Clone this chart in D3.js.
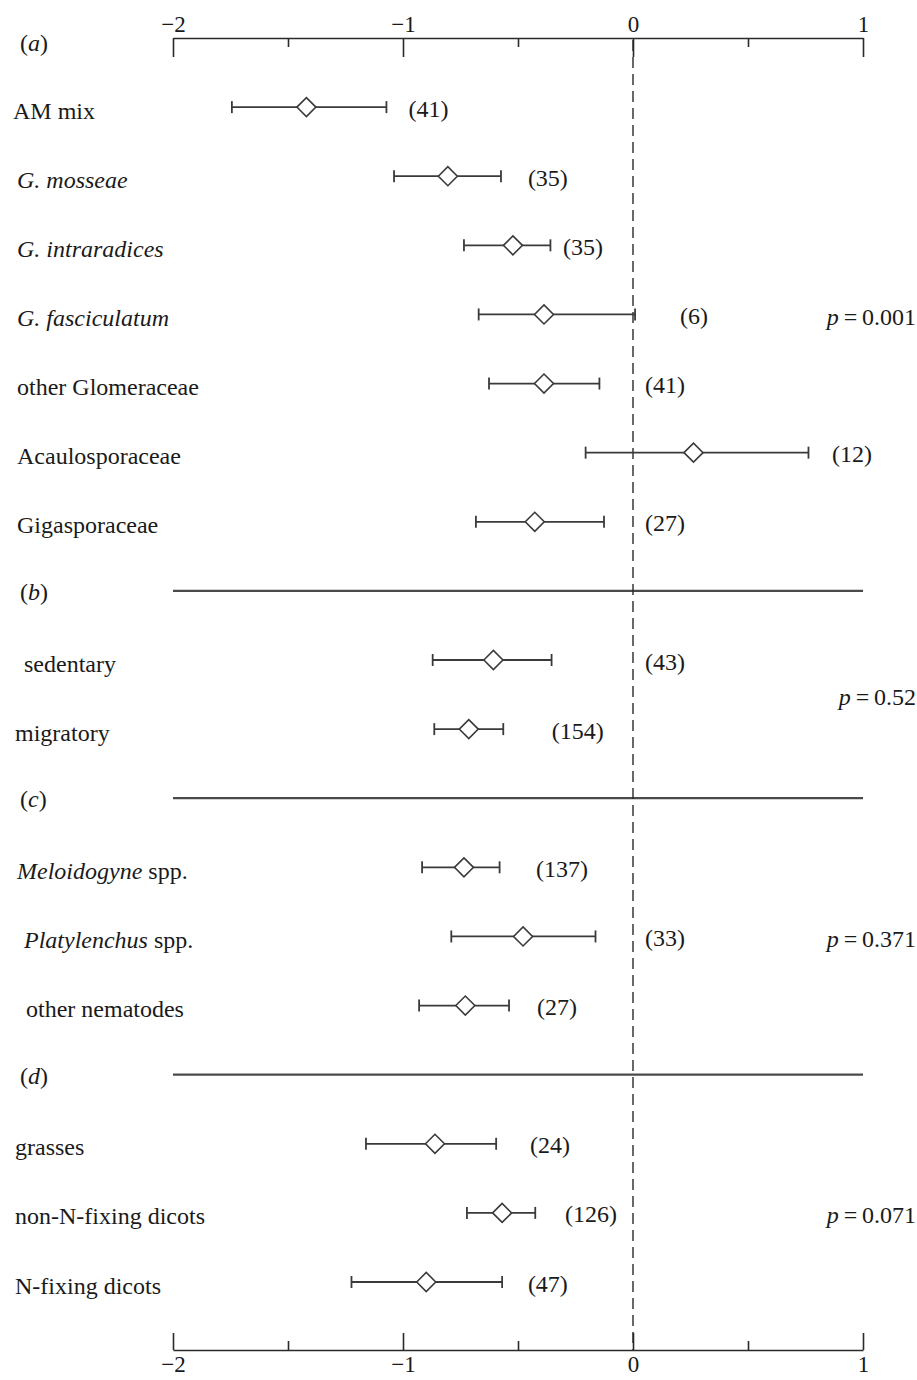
<!DOCTYPE html>
<meta charset="utf-8">
<style>
body { margin: 0; background: #fff; }
svg text { font-family: "Liberation Serif", "Times New Roman", serif; fill: #1a1a1a; }
.axis path, .axis line { stroke: #2a2a2a; stroke-width: 1.6px; }
.axis text { font-size: 23px; font-family: "Liberation Serif", serif; fill: #1a1a1a; }
.sep { stroke: #4a4a4a; stroke-width: 2.2px; }
.zero { stroke: #2a2a2a; stroke-width: 1.4px; stroke-dasharray: 11,6; }
.ci { stroke: #3a3a3a; stroke-width: 1.8px; fill: none; }
.mean { fill: #fff; stroke: #3a3a3a; stroke-width: 1.6px; }
</style>
<body>
<script src="https://cdn.jsdelivr.net/npm/d3@7"></script>
<script>
// data
var panels = ["a", "b", "c", "d"];
var pValues = ["0.001", "0.52", "0.371", "0.071"];

var labels = ["AM mix", "G. mosseae", "G. intraradices", "G. fasciculatum",
  "other Glomeraceae", "Acaulosporaceae", "Gigasporaceae",
  "sedentary", "migratory",
  "Meloidogyne spp.", "Platylenchus spp.", "other nematodes",
  "grasses", "non-N-fixing dicots", "N-fixing dicots"];
// leading part of each label that is set in italics
var italicPart = ["", "G. mosseae", "G. intraradices", "G. fasciculatum",
  "", "", "", "", "", "Meloidogyne", "Platylenchus", "", "", "", ""];
var group = ["a", "a", "a", "a", "a", "a", "a", "b", "b", "c", "c", "c", "d", "d", "d"];

var means = [-1.42, -0.805, -0.522, -0.387, -0.387, 0.263, -0.427,
  -0.607, -0.714, -0.735, -0.478, -0.729, -0.861, -0.569, -0.899];
var lower = [-1.744, -1.039, -0.735, -0.671, -0.626, -0.206, -0.683,
  -0.871, -0.864, -0.917, -0.79, -0.93, -1.161, -0.722, -1.224];
var upper = [-1.072, -0.574, -0.359, 0.009, -0.146, 0.763, -0.126,
  -0.354, -0.564, -0.58, -0.163, -0.539, -0.595, -0.425, -0.569];
var nObs = [41, 35, 35, 6, 41, 12, 27, 43, 154, 137, 33, 27, 24, 126, 47];

// layout only: where the (n) label sits, in axis units, and label indents
var nLabelAt = [-0.976, -0.457, -0.304, 0.204, 0.052, 0.865, 0.052,
  0.052, -0.353, -0.422, 0.052, -0.417, -0.448, -0.296, -0.457];
var labelIndent = [13, 17, 17, 17, 17, 17, 17, 24, 15, 17, 24, 26, 15, 15, 15];

var width = 917, height = 1380;
var axisTop = 38, axisBottom = 1350;

var svg = d3.select("body").append("svg")
    .attr("width", width)
    .attr("height", height);

var x = d3.scaleLinear().domain([-2, 1]).range([173, 863]);

// slot order: panel heading line, then its rows
var slots = [];
panels.forEach(function(p) {
  slots.push("panel-" + p);
  labels.forEach(function(l, i) { if (group[i] === p) slots.push("row-" + i); });
});
var y = d3.scalePoint().domain(slots).range([axisTop, 1282]);

var fmt = function(d) { return d < 0 ? "\u2212" + Math.abs(d) : String(d); };

// top axis, ticks pointing down
svg.append("g").attr("class", "axis")
    .attr("transform", "translate(0," + axisTop + ")")
    .call(d3.axisTop(x).tickValues([-2, -1, 0, 1]).tickSizeInner(-19).tickSizeOuter(0).tickPadding(6).tickFormat(fmt));
svg.append("g").attr("class", "axis")
    .attr("transform", "translate(0," + axisTop + ")")
    .call(d3.axisTop(x).tickValues([-1.5, -0.5, 0.5]).tickSizeInner(-9).tickSizeOuter(0).tickFormat(""))
    .select(".domain").remove();

// bottom axis, ticks pointing up
svg.append("g").attr("class", "axis")
    .attr("transform", "translate(0," + axisBottom + ")")
    .call(d3.axisBottom(x).tickValues([-2, -1, 0, 1]).tickSizeInner(-17).tickSizeOuter(0).tickPadding(6).tickFormat(fmt));
svg.append("g").attr("class", "axis")
    .attr("transform", "translate(0," + axisBottom + ")")
    .call(d3.axisBottom(x).tickValues([-1.5, -0.5, 0.5]).tickSizeInner(-9).tickSizeOuter(0).tickFormat(""))
    .select(".domain").remove();

// separators for panels b-d
svg.selectAll(".sep")
    .data(panels.slice(1))
  .enter().append("line")
    .attr("class", "sep")
    .attr("x1", x(-2)).attr("x2", x(1))
    .attr("y1", function(p) { return y("panel-" + p); })
    .attr("y2", function(p) { return y("panel-" + p); });

// dashed zero line
svg.append("line")
    .attr("class", "zero")
    .attr("x1", x(0)).attr("x2", x(0))
    .attr("y1", axisTop + 2).attr("y2", axisBottom);

// panel letters
var pl = svg.selectAll(".panel")
    .data(panels)
  .enter().append("text")
    .attr("class", "panel")
    .attr("x", 20)
    .attr("y", function(p, i) { return y("panel-" + p) + (i === 0 ? 4 : 0); })
    .attr("dy", "0.38em")
    .style("font-size", "24px");
pl.append("tspan").text("(");
pl.append("tspan").style("font-style", "italic").text(function(p) { return p; });
pl.append("tspan").text(")");

var rows = svg.selectAll(".row")
    .data(labels)
  .enter().append("g")
    .attr("class", "row")
    .attr("transform", function(d, i) { return "translate(0," + y("row-" + i) + ")"; });

// row labels
var lt = rows.append("text")
    .attr("x", function(d, i) { return labelIndent[i]; })
    .attr("dy", "0.48em")
    .style("font-size", "24px");
lt.append("tspan").style("font-style", "italic")
    .text(function(d, i) { return italicPart[i]; });
lt.append("tspan")
    .text(function(d, i) { return d.slice(italicPart[i].length); });

// confidence intervals
rows.append("line").attr("class", "ci")
    .attr("x1", function(d, i) { return x(lower[i]); })
    .attr("x2", function(d, i) { return x(upper[i]); });
rows.append("line").attr("class", "ci")
    .attr("x1", function(d, i) { return x(lower[i]); })
    .attr("x2", function(d, i) { return x(lower[i]); })
    .attr("y1", -6).attr("y2", 6);
rows.append("line").attr("class", "ci")
    .attr("x1", function(d, i) { return x(upper[i]); })
    .attr("x2", function(d, i) { return x(upper[i]); })
    .attr("y1", -6).attr("y2", 6);

// mean diamonds
rows.append("path").attr("class", "mean")
    .attr("d", function(d, i) {
      var cx = x(means[i]), r = 9.5;
      return "M" + (cx - r) + ",0L" + cx + "," + (-r) + "L" + (cx + r) + ",0L" + cx + "," + r + "Z";
    });

// sample sizes
rows.append("text")
    .attr("x", function(d, i) { return x(nLabelAt[i]); })
    .attr("dy", "0.4em")
    .style("font-size", "24px")
    .text(function(d, i) { return "(" + nObs[i] + ")"; });

// p-values, centred on each group's rows
var pt = svg.selectAll(".pval")
    .data(panels)
  .enter().append("text")
    .attr("class", "pval")
    .attr("x", 916)
    .attr("text-anchor", "end")
    .attr("y", function(p) {
      return d3.mean(labels.map(function(l, i) { return i; }).filter(function(i) { return group[i] === p; }),
        function(i) { return y("row-" + i); });
    })
    .attr("dy", "0.42em")
    .style("font-size", "24px");
pt.append("tspan").style("font-style", "italic").text("p");
pt.append("tspan").text(function(p, i) { return "\u2009=\u2009" + pValues[i]; });
</script>
</body>
